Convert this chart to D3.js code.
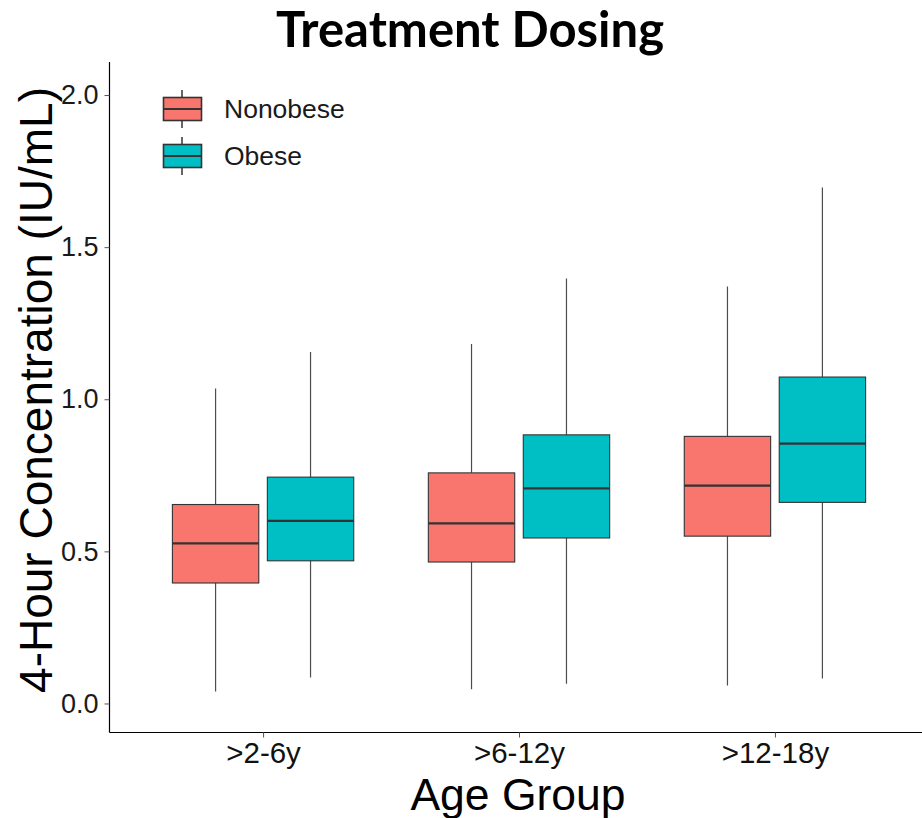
<!DOCTYPE html>
<html>
<head>
<meta charset="utf-8">
<script src="https://cdn.jsdelivr.net/npm/d3@7"></script>
<style>
  html, body { margin: 0; padding: 0; background: #fff; }
  svg { display: block; }
</style>
</head>
<body>
<svg id="chart" width="922" height="818"></svg>
<script>
// Age groups on the x axis and the two weight groups dodged within each
const categories = [">2-6y", ">6-12y", ">12-18y"];
const groups = ["Nonobese", "Obese"];
const groupColors = ["#F8766D", "#00BFC4"];
const yTicks = [0.0, 0.5, 1.0, 1.5, 2.0];

// Box-plot summaries (IU/mL), one value per age group
const nonobeseLow    = [0.039, 0.047, 0.059];
const nonobeseQ1     = [0.396, 0.465, 0.550];
const nonobeseMedian = [0.526, 0.592, 0.716];
const nonobeseQ3     = [0.654, 0.758, 0.878];
const nonobeseHigh   = [1.035, 1.182, 1.371];

const obeseLow    = [0.085, 0.065, 0.082];
const obeseQ1     = [0.469, 0.544, 0.661];
const obeseMedian = [0.600, 0.707, 0.854];
const obeseQ3     = [0.744, 0.883, 1.073];
const obeseHigh   = [1.155, 1.397, 1.696];

const boxes = [];
categories.forEach((c, i) => {
  boxes.push({cat: c, group: groups[0], low: nonobeseLow[i], q1: nonobeseQ1[i], med: nonobeseMedian[i], q3: nonobeseQ3[i], high: nonobeseHigh[i]});
  boxes.push({cat: c, group: groups[1], low: obeseLow[i], q1: obeseQ1[i], med: obeseMedian[i], q3: obeseQ3[i], high: obeseHigh[i]});
});

const svg = d3.select("#chart");
const plotLeft = 109.5, plotRight = 928.5, plotTop = 62, plotBottom = 732.5;

const x = d3.scalePoint().domain(categories).range([plotLeft, plotRight]).padding(0.6);
const step = x.step();
const dodge = d3.scaleBand().domain(groups).range([-0.1855 * step * 2, 0.1855 * step * 2]).padding(0);
const boxW = 0.3375 * step;
const color = d3.scaleOrdinal().domain(groups).range(groupColors);
const y = d3.scaleLinear().domain([-0.0954, 2.1086]).range([plotBottom, plotTop]);

const cx = d => x(d.cat) + dodge(d.group) + dodge.bandwidth() / 2;

// Title
svg.append("text")
  .attr("x", 470).attr("y", 47)
  .attr("text-anchor", "middle")
  .attr("font-family", "Lato, 'Open Sans', sans-serif")
  .attr("font-weight", "bold")
  .attr("font-size", 49)
  .attr("fill", "#000")
  .text("Treatment Dosing");

const plot = svg.append("g");

// Whiskers
plot.selectAll("line.whisker")
  .data(boxes).enter().append("line")
  .attr("class", "whisker")
  .attr("x1", cx).attr("x2", cx)
  .attr("y1", d => y(d.low)).attr("y2", d => y(d.high))
  .attr("stroke", "#4d4d4d").attr("stroke-width", 1.2);

// Boxes
plot.selectAll("rect.box")
  .data(boxes).enter().append("rect")
  .attr("class", "box")
  .attr("x", d => cx(d) - boxW / 2)
  .attr("width", boxW)
  .attr("y", d => y(d.q3))
  .attr("height", d => y(d.q1) - y(d.q3))
  .attr("fill", d => color(d.group))
  .attr("stroke", "#333").attr("stroke-width", 1.1);

// Medians
plot.selectAll("line.median")
  .data(boxes).enter().append("line")
  .attr("class", "median")
  .attr("x1", d => cx(d) - boxW / 2).attr("x2", d => cx(d) + boxW / 2)
  .attr("y1", d => y(d.med)).attr("y2", d => y(d.med))
  .attr("stroke", "#333").attr("stroke-width", 2.2);

// Axes
const yAxis = svg.append("g")
  .attr("transform", `translate(${plotLeft},0)`)
  .call(d3.axisLeft(y).tickValues(yTicks).tickFormat(d3.format(".1f")).tickSize(5).tickPadding(6));
yAxis.select(".domain").attr("d", `M0,${plotTop}V${plotBottom}`).attr("stroke", "#000").attr("stroke-width", 1.2);
yAxis.selectAll(".tick line").attr("stroke", "#555");
yAxis.selectAll(".tick text")
  .attr("font-family", "'Liberation Sans', Arial, sans-serif")
  .attr("font-size", 27).attr("fill", "#1a1a1a");

const xAxis = svg.append("g")
  .attr("transform", `translate(0,${plotBottom})`)
  .call(d3.axisBottom(x).tickSize(5).tickPadding(5));
xAxis.select(".domain").attr("d", `M${plotLeft},0H922`).attr("stroke", "#000").attr("stroke-width", 1.2);
xAxis.selectAll(".tick line").attr("stroke", "#555");
xAxis.selectAll(".tick text")
  .attr("font-family", "'Liberation Sans', Arial, sans-serif")
  .attr("font-size", 29.5).attr("fill", "#111");

// Axis titles
svg.append("text")
  .attr("x", 518).attr("y", 810)
  .attr("text-anchor", "middle")
  .attr("font-family", "'Liberation Sans', Arial, sans-serif")
  .attr("font-size", 44.5).attr("fill", "#000")
  .text("Age Group");

svg.append("text")
  .attr("transform", "translate(52,390) rotate(-90)")
  .attr("text-anchor", "middle")
  .attr("font-family", "'Liberation Sans', Arial, sans-serif")
  .attr("font-size", 46).attr("fill", "#000")
  .text("4-Hour Concentration (IU/mL)");

// Legend
const legend = svg.append("g").attr("transform", "translate(163,90)");
const item = legend.selectAll("g.item")
  .data(groups).enter().append("g")
  .attr("class", "item")
  .attr("transform", (d, i) => `translate(0,${i * 47})`);
item.append("line")
  .attr("x1", 19).attr("x2", 19).attr("y1", 0).attr("y2", 38)
  .attr("stroke", "#333").attr("stroke-width", 1.5);
item.append("rect")
  .attr("x", 0.5).attr("y", 7.5).attr("width", 38).attr("height", 23)
  .attr("fill", d => color(d)).attr("stroke", "#333").attr("stroke-width", 1.6);
item.append("line")
  .attr("x1", 0.5).attr("x2", 38.5).attr("y1", 19).attr("y2", 19)
  .attr("stroke", "#333").attr("stroke-width", 2);
item.append("text")
  .attr("x", 61).attr("y", 19).attr("dy", "0.35em")
  .attr("font-family", "'Liberation Sans', Arial, sans-serif")
  .attr("font-size", 26.5).attr("fill", "#1a1a1a")
  .text(d => d);
</script>
</body>
</html>
